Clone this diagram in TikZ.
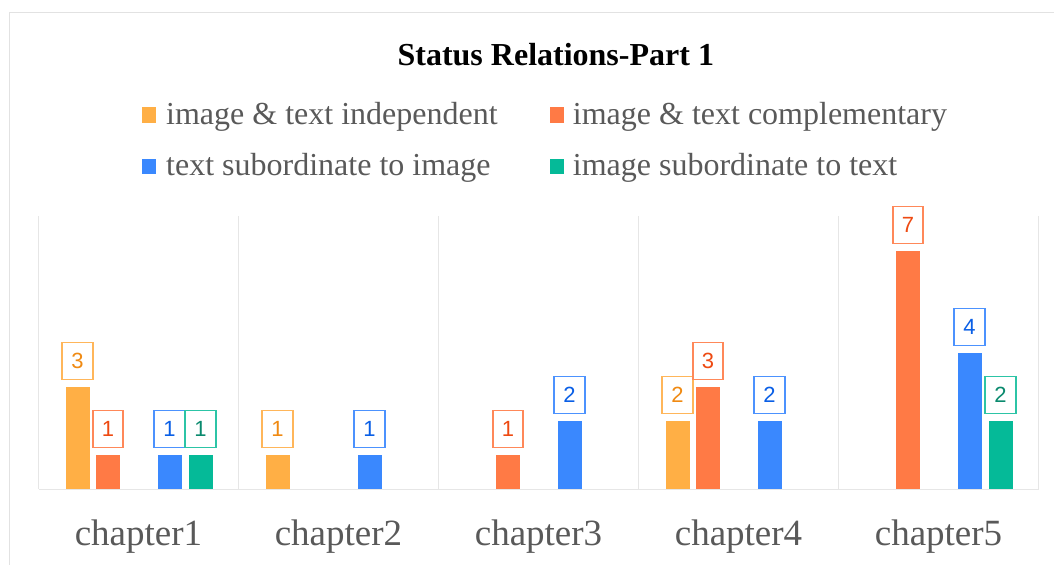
\documentclass[tikz,border=0pt]{standalone}
\usepackage{fontspec}
\setmainfont{Liberation Serif}
\newfontfamily\lblfont{Liberation Sans}

% series colours: bar fill (c), label frame (b), label digit (d)
\definecolor{cO}{HTML}{FFAF45}
\definecolor{bO}{HTML}{FFB65A}
\definecolor{dO}{HTML}{F08A12}
\definecolor{cR}{HTML}{FF7A45}
\definecolor{bR}{HTML}{FF8859}
\definecolor{dR}{HTML}{EE4A12}
\definecolor{cB}{HTML}{3A88FE}
\definecolor{bB}{HTML}{4C92FE}
\definecolor{dB}{HTML}{0A5FE6}
\definecolor{cG}{HTML}{05BA98}
\definecolor{bG}{HTML}{2CC4A6}
\definecolor{dG}{HTML}{0A8A6E}
\definecolor{txt}{HTML}{595959}
\definecolor{gridc}{HTML}{E6E6E6}
\definecolor{framec}{HTML}{E2E2E2}

\begin{document}
\begin{tikzpicture}[x=1pt,y=-1pt,
  gridline/.style={draw=gridc,line width=1pt},
  legtext/.style={anchor=base west,inner sep=0pt,text=txt,font=\fontsize{32}{38}\selectfont},
  legkey/.style={minimum width=14pt,minimum height=15.4pt,inner sep=0pt},
  cattext/.style={anchor=base,inner sep=0pt,text=txt,font=\fontsize{37}{44}\selectfont},
  vallabel/.style={draw,line width=1.7pt,fill=white,minimum width=30.5pt,minimum height=37pt,
    inner sep=0pt,font=\lblfont\fontsize{22}{26}\selectfont}]
\useasboundingbox (0,0) rectangle (1054,565);

% outer chart frame
\draw[framec,line width=1pt] (9,565) -- (9,12.3) -- (1054,12.3);

% title
\node[anchor=base,inner sep=0pt,font=\fontsize{32}{38}\selectfont\bfseries] (title) at (555.8,65) {Status Relations-Part 1};

% legend
\node[legkey,fill=cO] (k1) at (149.3,115) {};
\node[legtext] (t1) at (166,124) {image \& text independent};
\node[legkey,fill=cR] (k2) at (557.3,115) {};
\node[legtext] (t2) at (572.7,124) {image \& text complementary};
\node[legkey,fill=cB] (k3) at (149.3,166.3) {};
\node[legtext] (t3) at (166,175) {text subordinate to image};
\node[legkey,fill=cG] (k4) at (557.3,166.3) {};
\node[legtext] (t4) at (572.7,175) {image subordinate to text};

% grid
\foreach \i in {0,...,5}
  \draw[gridline] (38.5+200*\i,216) -- (38.5+200*\i,489);
\draw[gridline] (38.5,489) -- (1038.5,489);

% bars and value labels: chapter / slot / value / series
\foreach \c/\s/\v/\col in {0/0/3/O,0/1/1/R,0/2/1/B,0/3/1/G,
                            1/0/1/O,1/2/1/B,
                            2/1/1/R,2/2/2/B,
                            3/0/2/O,3/1/3/R,3/2/2/B,
                            4/1/7/R,4/2/4/B,4/3/2/G}{
  \pgfmathsetmacro\cx{138.5+200*\c+{-61,-30.5,31,62}[\s]}
  \fill[c\col] (\cx-12,489) rectangle (\cx+12,489-34*\v);
  \node[vallabel,draw=b\col,text=d\col] (v-\c-\s) at (\cx,489-34*\v-26) {\v};
}

% category labels
\foreach \i in {1,...,5}
  \node[cattext] (cat\i) at (138.5+200*\i-200,545) {chapter\i};
\end{tikzpicture}
\end{document}
